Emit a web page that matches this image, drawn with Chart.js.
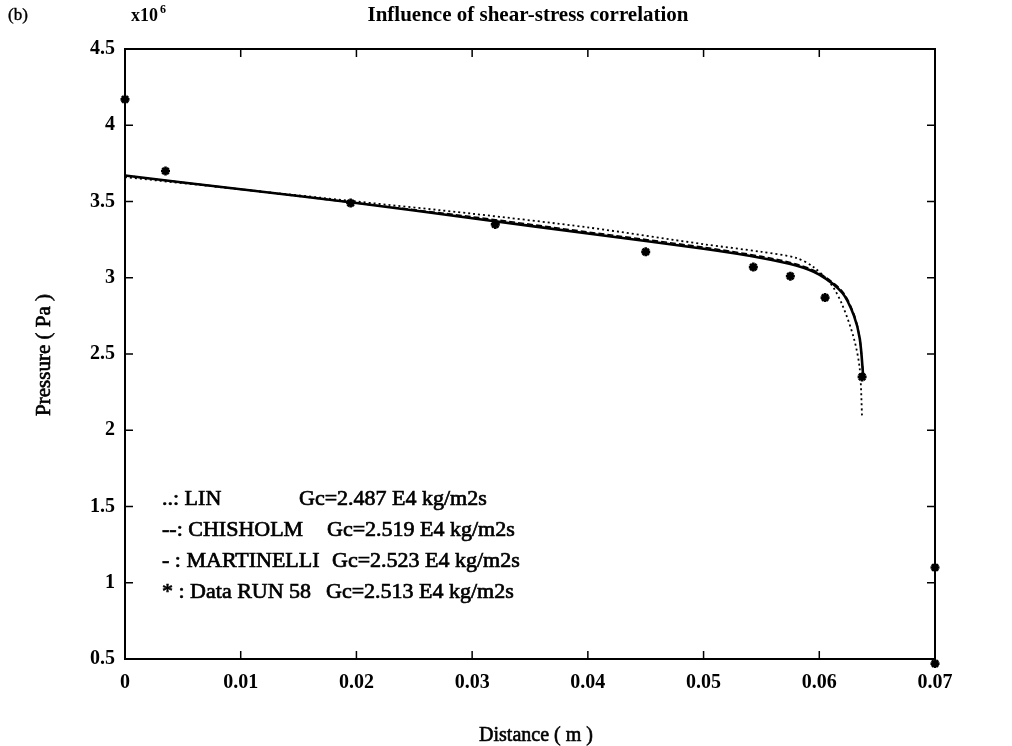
<!DOCTYPE html>
<html>
<head>
<meta charset="utf-8">
<script src="https://cdn.jsdelivr.net/npm/chart.js@4.4.0/dist/chart.umd.min.js"></script>
<style>
  html, body { margin: 0; padding: 0; background: #fff; }
  #wrap { width: 1012px; height: 746px; }
</style>
</head>
<body>
<div id="wrap"><canvas id="chart" width="1012" height="746"></canvas></div>
<script>
// values (pressure in units of 1e6 Pa)
const linX = [0, 0.01, 0.02, 0.03, 0.04, 0.05, 0.055, 0.058, 0.0595, 0.061, 0.062, 0.063, 0.0635, 0.0637];
const linY = [3.66, 3.58, 3.50, 3.42, 3.33, 3.22, 3.17, 3.13, 3.07, 2.96, 2.82, 2.6, 2.4, 2.08];
const chisX = [0, 0.01, 0.02, 0.03, 0.04, 0.05, 0.055, 0.058, 0.060, 0.062, 0.063, 0.0635, 0.0638];
const chisY = [3.67, 3.58, 3.49, 3.40, 3.30, 3.20, 3.14, 3.09, 3.03, 2.91, 2.76, 2.6, 2.36];
const martX = [0, 0.01, 0.02, 0.03, 0.04, 0.05, 0.055, 0.058, 0.060, 0.062, 0.063, 0.0635, 0.0638];
const martY = [3.67, 3.58, 3.49, 3.39, 3.29, 3.19, 3.13, 3.08, 3.02, 2.90, 2.75, 2.6, 2.35];
const dataX = [0, 0.0035, 0.0195, 0.032, 0.045, 0.0543, 0.0575, 0.0605, 0.0637, 0.07, 0.07];
const dataY = [4.17, 3.70, 3.49, 3.35, 3.17, 3.07, 3.01, 2.87, 2.35, 1.10, 0.47];

const legendLines = [
  ['..: LIN', 'Gc=2.487 E4 kg/m2s'],
  ['--: CHISHOLM', 'Gc=2.519 E4 kg/m2s'],
  ['- : MARTINELLI', 'Gc=2.523 E4 kg/m2s'],
  ['* : Data RUN 58', 'Gc=2.513 E4 kg/m2s']
];

const toPts = (xs, ys) => xs.map((x, i) => ({ x: x, y: ys[i] }));
const serif = '"Liberation Serif", "DejaVu Serif", serif';

// draw text a little heavier, like the scanned original
function heavy(c, s, x, y, w) {
  c.fillText(s, x, y);
  c.lineWidth = w || 0.6;
  c.strokeText(s, x, y);
}

const frame = {
  id: 'frame',
  afterDraw(chart) {
    const c = chart.ctx, a = chart.chartArea;
    const xs = chart.scales.x, ys = chart.scales.y;
    c.save();
    c.strokeStyle = '#000';
    c.lineWidth = 2;
    c.strokeRect(a.left, a.top, a.right - a.left, a.bottom - a.top);
    c.lineWidth = 1.5;
    xs.ticks.forEach(t => {
      const px = xs.getPixelForValue(t.value);
      c.beginPath();
      c.moveTo(px, a.bottom); c.lineTo(px, a.bottom - 8);
      c.moveTo(px, a.top); c.lineTo(px, a.top + 8);
      c.stroke();
    });
    ys.ticks.forEach(t => {
      const py = ys.getPixelForValue(t.value);
      c.beginPath();
      c.moveTo(a.left, py); c.lineTo(a.left + 8, py);
      c.moveTo(a.right, py); c.lineTo(a.right - 8, py);
      c.stroke();
    });

    c.fillStyle = '#000';
    c.textBaseline = 'alphabetic';
    c.font = '17px ' + serif;
    c.textAlign = 'left';
    heavy(c, '(b)', 8, 20, 0.4);
    c.font = 'bold 18px ' + serif;
    c.fillText('x10', 131, 21);
    c.font = 'bold 12px ' + serif;
    c.fillText('6', 160, 13);
    c.font = 'bold 21px ' + serif;
    c.textAlign = 'center';
    c.fillText('Influence of shear-stress correlation', 528, 21);
    c.font = '20px ' + serif;
    heavy(c, 'Distance ( m )', 536, 741, 0.6);
    c.save();
    c.translate(50, 355);
    c.rotate(-Math.PI / 2);
    c.font = '21px ' + serif;
    heavy(c, 'Pressure ( Pa )', 0, 0, 0.6);
    c.restore();

    c.textAlign = 'left';
    c.font = '22px ' + serif;
    const col2 = [299, 327, 332, 326];
    legendLines.forEach((l, i) => {
      const y = 505 + i * 31;
      heavy(c, l[0], 162, y, 0.7);
      heavy(c, l[1], col2[i], y, 0.7);
    });
    c.restore();
  }
};

new Chart(document.getElementById('chart'), {
  type: 'scatter',
  data: {
    datasets: [
      { label: 'LIN', data: toPts(linX, linY), showLine: true, borderColor: '#000', borderWidth: 1.8, borderDash: [2, 3], pointRadius: 0, tension: 0.3 },
      { label: 'CHISHOLM', data: toPts(chisX, chisY), showLine: true, borderColor: '#000', borderWidth: 1.6, borderDash: [6, 3], pointRadius: 0, tension: 0.3 },
      { label: 'MARTINELLI', data: toPts(martX, martY), showLine: true, borderColor: '#000', borderWidth: 2.6, pointRadius: 0, tension: 0.3 },
      { label: 'Data RUN 58', data: toPts(dataX, dataY), showLine: false, pointStyle: 'star', pointRadius: 4.5, borderColor: '#000', backgroundColor: '#000', borderWidth: 2.6 }
    ]
  },
  options: {
    responsive: false,
    animation: false,
    clip: false,
    layout: { padding: { top: 49, right: 77, left: 0, bottom: 0 } },
    plugins: { legend: { display: false }, tooltip: { enabled: false } },
    scales: {
      x: {
        type: 'linear', min: 0, max: 0.07,
        afterFit: s => { s.height = 87; },
        grid: { display: false, drawTicks: false },
        border: { display: false },
        ticks: { stepSize: 0.01, color: '#000', padding: 12, font: { family: serif, size: 20, weight: 'bold' }, maxRotation: 0,
          callback: v => String(+v.toFixed(2)) }
      },
      y: {
        type: 'linear', min: 0.5, max: 4.5,
        afterFit: s => { s.width = 125; },
        grid: { display: false, drawTicks: false },
        border: { display: false },
        ticks: { stepSize: 0.5, color: '#000', padding: 10, font: { family: serif, size: 20, weight: 'bold' },
          callback: v => String(+v.toFixed(1)) }
      }
    }
  },
  plugins: [frame]
});
</script>
</body>
</html>
